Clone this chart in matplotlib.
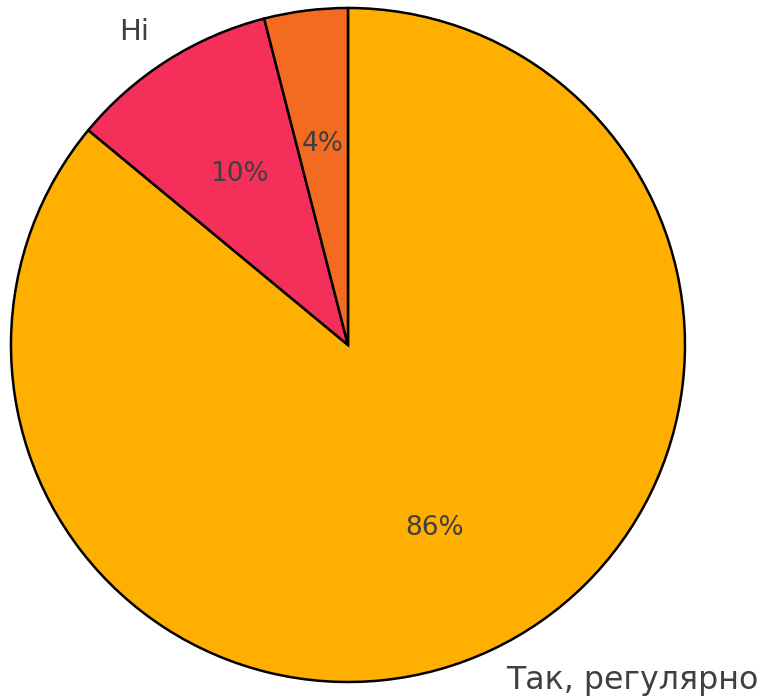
import matplotlib
matplotlib.use("Agg")
import matplotlib.pyplot as plt

# Дані діаграми (підпис третього сектора в оригіналі за межами кадру)
labels = ["Так, регулярно", "Ні", ""]
values = [86, 10, 4]
colors = ["#FFAF00", "#F4305A", "#F26B21"]
label_sizes = [22.8, 21, 21]

fig = plt.figure(figsize=(7.63, 6.99), dpi=100)
ax = fig.add_axes([0, 0, 1, 1])

wedges, texts, autotexts = ax.pie(
    values,
    labels=labels,
    colors=colors,
    autopct="%1.0f%%",
    startangle=90,
    counterclock=False,
    wedgeprops={"edgecolor": "black", "linewidth": 1.8},
    textprops={"color": "#404040"},
)
for t, s in zip(texts, label_sizes):
    t.set_fontsize(s)
for t in autotexts:
    t.set_fontsize(19)

# центр і радіус підібрані під рамку оригіналу
ax.set_xlim(-1.0326, 1.2315)
ax.set_ylim(-1.0504, 1.0237)
ax.set_aspect("auto")
ax.axis("off")

fig.savefig("out.png", dpi=100)
